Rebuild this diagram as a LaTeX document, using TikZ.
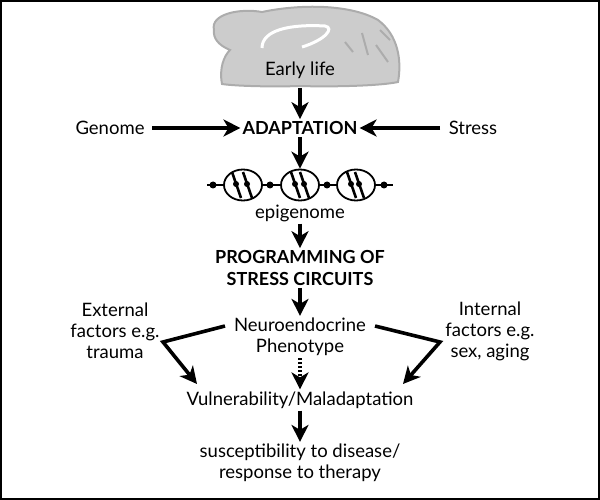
\documentclass[tikz,border=0pt]{standalone}
\usepackage{fontspec}
\setmainfont{Lato}
\usetikzlibrary{arrows.meta,shapes.geometric}
\begin{document}
\begin{tikzpicture}[x=1pt,y=-1pt,
  lbl/.style={font=\fontsize{18.5}{21}\selectfont, align=center, inner sep=2pt},
  bold/.style={lbl, font=\fontsize{18}{22}\selectfont\bfseries},
  tip/.style={-{Stealth[length=17pt,width=17pt,inset=5pt]}},
  arr/.style={line width=3.6pt, tip},
  dot/.style={circle, fill=black, inner sep=0pt, minimum size=7pt}]
\useasboundingbox (0,0) rectangle (600,500);
\draw[line width=1.5pt] (1,1) rectangle (599,499);
% brain
\path[fill=gray!40, draw=gray!65, line width=2pt]
  (214,30) .. controls (210,14) and (240,8) .. (262,12)
  .. controls (300,4) and (350,4) .. (378,20)
  .. controls (398,35) and (402,60) .. (398,82)
  .. controls (380,86) and (330,87) .. (300,86)
  .. controls (270,87) and (235,86) .. (222,84)
  .. controls (219,68) and (224,56) .. (230,50)
  .. controls (218,45) and (213,38) .. (214,30) -- cycle;
\draw[white, line width=3pt] (262,48) .. controls (262,30) and (290,24) .. (325,26)
  .. controls (335,28) and (325,40) .. (302,47);
\draw[gray!65, line width=2pt] (345,42) -- (353,52) (362,33) -- (368,55) (376,45) -- (388,62) (380,30) -- (390,40);
\node[lbl] (early) at (300,70) {Early life};
\coordinate (brainb) at (300,88);
% main column
\node[bold] (adapt) at (300,128) {ADAPTATION};
\node[lbl] (genome) at (110,128) {Genome};
\node[lbl] (stress) at (473,128) {Stress};
\coordinate (gs) at (152,128); \coordinate (ss) at (440,128);
\draw[arr] (brainb) -- (adapt);
\draw[arr] (gs) -- (adapt);
\draw[arr] (ss) -- (adapt);
% epigenome
\coordinate (sl) at (207,185); \coordinate (sr) at (393,185);
\draw[line width=2pt] (sl) -- (sr);
\foreach \x/\n in {243/e1,300/e2,356/e3}{
  \node[draw, line width=1.8pt, fill=white, ellipse, minimum width=38pt, minimum height=31pt, inner sep=0pt] (\n) at (\x,185) {};
}
\foreach \x in {213,270,327,384}{ \node[dot] at (\x,185) {}; }
\foreach \x in {237,248,296,305,352,360}{
  \draw[line width=2.6pt] (\x-5,172) -- (\x+4,198);
  \node[dot, minimum size=6pt] at (\x-1,184) {};
}
\node[lbl] (epi) at (300,213) {epigenome};
\draw[arr] (adapt) -- (e2);
\node[bold] (prog) at (300,268) {PROGRAMMING OF\\STRESS CIRCUITS};
\draw[arr] (epi) -- (prog);
\node[lbl] (neuro) at (300,337) {Neuroendocrine\\Phenotype};
\draw[arr] (prog) -- (neuro);
\node[lbl] (ext) at (115,331) {External\\factors e.g.\\trauma};
\node[lbl] (int) at (490,331) {Internal\\factors e.g.\\sex, aging};
\node[lbl] (vuln) at (300,400) {Vulnerability/Maladaptation};
\coordinate (lk) at (163,342); \coordinate (rk) at (440,342);
\coordinate (la) at (225,326); \coordinate (ra) at (375,326);
\coordinate (lt) at (197,384); \coordinate (rt) at (403,384);
\draw[line width=3.6pt, tip, line join=miter] (la) -- (lk) -- (lt);
\draw[line width=3.6pt, tip, line join=miter] (ra) -- (rk) -- (rt);
\draw[line width=3.6pt, dash pattern=on 2pt off 2pt, tip] (neuro) -- (vuln);
\node[lbl] (susc) at (300,463) {susceptibility to disease/\\response to therapy};
\draw[arr] (vuln) -- (susc);
\end{tikzpicture}
\end{document}
